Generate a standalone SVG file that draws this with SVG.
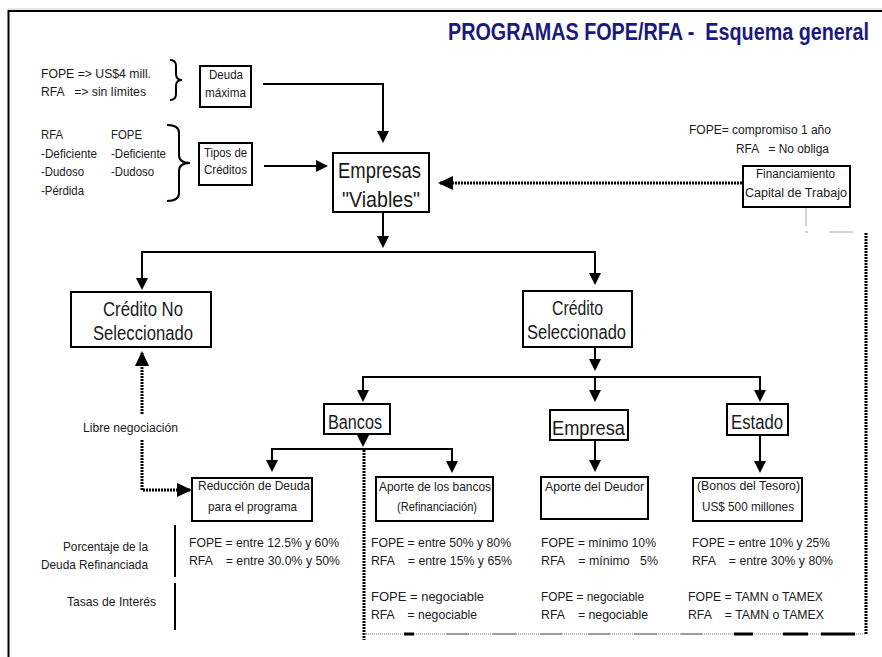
<svg xmlns="http://www.w3.org/2000/svg" width="882" height="657" viewBox="0 0 882 657">
<style>
.box{fill:#fff;stroke:#000;stroke-width:2}
.ln{fill:none;stroke:#000;stroke-width:2}
.dot{fill:none;stroke:#000;stroke-width:3;stroke-dasharray:2 1}
.gr{fill:none;stroke:#aaa;stroke-width:1}
.t{font-family:"Liberation Sans Narrow","Liberation Sans",Arial,sans-serif;fill:#1a1a1a;font-size:13px;white-space:pre}
.s12{font-size:12px}
.m{font-size:20px}
.l{font-size:22px}
.title{font-family:"Liberation Sans Narrow","Liberation Sans",Arial,sans-serif;font-weight:bold;fill:#1a1a7e;font-size:19.5px;white-space:pre}
</style>
<defs>
<marker id="ah" markerUnits="userSpaceOnUse" markerWidth="12" markerHeight="12" refX="10" refY="6" orient="auto">
<path d="M0,0 L12,6 L0,12 z" fill="#000"/>
</marker>
<marker id="ahd" markerUnits="userSpaceOnUse" markerWidth="15" markerHeight="14" refX="13" refY="7" orient="auto">
<path d="M0,0 L15,7 L0,14 z" fill="#000"/>
</marker>
</defs>
<rect width="882" height="657" fill="#fff"/>
<!-- frame -->
<g id="frame">
<line x1="8" y1="9" x2="882" y2="9" stroke="#ccc" stroke-width="1"/>
<line x1="8.5" y1="11" x2="882" y2="11" stroke="#000" stroke-width="2"/>
<line x1="8.5" y1="10" x2="8.5" y2="657" stroke="#000" stroke-width="2"/>
</g>
<text class="title" x="448" y="33.33" transform="scale(1,1.2)" textLength="421" lengthAdjust="spacingAndGlyphs" xml:space="preserve">PROGRAMAS FOPE/RFA -  Esquema general</text>

<!-- connectors -->
<g id="connectors">
<path class="ln" d="M263,84 H383 V141" marker-end="url(#ah)"/>
<path class="ln" d="M264,166 H326" marker-end="url(#ah)"/>
<path class="dot" d="M742,183 H440" marker-end="url(#ahd)"/>
<path class="ln" d="M383,212 V246" marker-end="url(#ah)"/>
<path class="ln" d="M141,252 H596"/>
<path class="ln" d="M142,252 V288" marker-end="url(#ah)"/>
<path class="ln" d="M595,252 V283" marker-end="url(#ah)"/>
<path class="ln" d="M595,347 V369" marker-end="url(#ah)"/>
<path class="ln" d="M362,377 H761"/>
<path class="ln" d="M363,377 V400" marker-end="url(#ah)"/>
<path class="ln" d="M595,377 V400" marker-end="url(#ah)"/>
<path class="ln" d="M760,377 V400" marker-end="url(#ah)"/>
<path class="ln" d="M363,434 V445" marker-end="url(#ah)"/>
<path class="ln" d="M271,449 H453"/>
<path class="ln" d="M272,449 V470" marker-end="url(#ah)"/>
<path class="ln" d="M452,449 V471" marker-end="url(#ah)"/>
<path class="ln" d="M595,432 V470" marker-end="url(#ah)"/>
<path class="ln" d="M760,435 V471" marker-end="url(#ah)"/>
<path class="dot" d="M142,414 V353" marker-end="url(#ahd)"/>
<path class="dot" d="M142,440 V490 H190" marker-end="url(#ahd)"/>
<path class="dot" d="M364,450 V640"/>
<path class="dot" d="M866,233 V634"/>
<line x1="364" y1="634" x2="866" y2="634" stroke="#777" stroke-width="1" stroke-dasharray="1 1"/>
<path fill="none" stroke="#888" stroke-width="1.3" d="M447,634 H469 M493,634 H516 M540,634 H562 M588,634 H610 M634,634 H657 M681,634 H702"/>
<path fill="none" stroke="#000" stroke-width="3" d="M404,634 H414 M734,634 H753 M783,634 H808 M821,634 H855"/>
<path class="gr" d="M806,207 V226 M805,232 H808 M829,232 H853"/>
</g>

<!-- left annotations -->
<g id="deuda-notes">
<text class="t" x="41" y="78" textLength="110" lengthAdjust="spacingAndGlyphs" xml:space="preserve">FOPE =&gt; US$4 mill.</text>
<text class="t" x="41" y="96" textLength="105" lengthAdjust="spacingAndGlyphs" xml:space="preserve">RFA   =&gt; sin límites</text>
<path class="ln" stroke-width="1.5" d="M170,60 Q176,60 176,66 V74 Q176,80 182,80 Q176,80 176,86 V94 Q176,100 170,100"/>
</g>
<g id="tipos-notes">
<text class="t" x="41" y="139" textLength="22" lengthAdjust="spacingAndGlyphs">RFA</text>
<text class="t" x="111" y="139" textLength="31" lengthAdjust="spacingAndGlyphs">FOPE</text>
<text class="t" x="41" y="158" textLength="56" lengthAdjust="spacingAndGlyphs">-Deficiente</text>
<text class="t" x="111" y="158" textLength="55" lengthAdjust="spacingAndGlyphs">-Deficiente</text>
<text class="t" x="41" y="176" textLength="43" lengthAdjust="spacingAndGlyphs">-Dudoso</text>
<text class="t" x="111" y="176" textLength="43" lengthAdjust="spacingAndGlyphs">-Dudoso</text>
<text class="t" x="41" y="195" textLength="43" lengthAdjust="spacingAndGlyphs">-Pérdida</text>
<path class="ln" stroke-width="1.5" d="M167,125 Q179,125 179,133 V155 Q179,163 190,163 Q179,163 179,171 V193 Q179,201 167,201"/>
</g>

<g id="deuda-maxima">
<rect class="box" x="200" y="66" width="51" height="41"/>
<text class="t" x="209" y="79" textLength="34" lengthAdjust="spacingAndGlyphs">Deuda</text>
<text class="t" x="205" y="97" textLength="41" lengthAdjust="spacingAndGlyphs">máxima</text>
</g>
<g id="tipos-creditos">
<rect class="box" x="199" y="143" width="53" height="42"/>
<text class="t" x="204" y="157" textLength="43" lengthAdjust="spacingAndGlyphs">Tipos de</text>
<text class="t" x="204" y="174" textLength="43" lengthAdjust="spacingAndGlyphs">Créditos</text>
</g>
<g id="empresas-viables">
<rect class="box" x="333" y="153" width="96" height="59"/>
<text class="t l" x="338" y="178" textLength="83" lengthAdjust="spacingAndGlyphs">Empresas</text>
<text class="t l" x="342" y="207" textLength="78" lengthAdjust="spacingAndGlyphs">"Viables"</text>
</g>
<g id="financiamiento">
<text class="t s12" x="689" y="134" textLength="142" lengthAdjust="spacingAndGlyphs" xml:space="preserve">FOPE= compromiso 1 año</text>
<text class="t s12" x="736" y="153" textLength="93" lengthAdjust="spacingAndGlyphs" xml:space="preserve">RFA   = No obliga</text>
<rect class="box" x="743" y="166" width="107" height="41"/>
<text class="t s12" x="756" y="178" textLength="79" lengthAdjust="spacingAndGlyphs">Financiamiento</text>
<text class="t s12" x="745" y="197" textLength="102" lengthAdjust="spacingAndGlyphs">Capital de Trabajo</text>
</g>
<g id="credito-no-seleccionado">
<rect class="box" x="71" y="292" width="140" height="55"/>
<text class="t m" x="103" y="316" textLength="80" lengthAdjust="spacingAndGlyphs">Crédito No</text>
<text class="t m" x="93" y="340" textLength="100" lengthAdjust="spacingAndGlyphs">Seleccionado</text>
</g>
<g id="credito-seleccionado">
<rect class="box" x="523" y="291" width="109" height="56"/>
<text class="t m" x="552" y="315" textLength="51" lengthAdjust="spacingAndGlyphs">Crédito</text>
<text class="t m" x="527" y="339" textLength="99" lengthAdjust="spacingAndGlyphs">Seleccionado</text>
</g>
<g id="libre-negociacion">
<text class="t s12" x="83" y="432" textLength="95" lengthAdjust="spacingAndGlyphs">Libre negociación</text>
</g>
<g id="bancos">
<rect class="box" x="324" y="404" width="66" height="30"/>
<text class="t m" x="328" y="429" textLength="54" lengthAdjust="spacingAndGlyphs">Bancos</text>
</g>
<g id="empresa">
<rect class="box" x="550" y="410" width="78" height="30"/>
<text class="t m" x="552" y="435" textLength="73" lengthAdjust="spacingAndGlyphs">Empresa</text>
</g>
<g id="estado">
<rect class="box" x="727" y="404" width="61" height="31"/>
<text class="t m" x="731" y="429" textLength="52" lengthAdjust="spacingAndGlyphs">Estado</text>
</g>
<g id="reduccion-deuda">
<rect class="box" x="192" y="478" width="120" height="43"/>
<text class="t" x="198" y="490" textLength="112" lengthAdjust="spacingAndGlyphs">Reducción de Deuda</text>
<text class="t" x="208" y="511" textLength="89" lengthAdjust="spacingAndGlyphs">para el programa</text>
</g>
<g id="aporte-bancos">
<rect class="box" x="376" y="477" width="117" height="44"/>
<text class="t" x="379" y="491" textLength="112" lengthAdjust="spacingAndGlyphs">Aporte de los bancos</text>
<text class="t" x="397" y="511" textLength="80" lengthAdjust="spacingAndGlyphs">(Refinanciación)</text>
</g>
<g id="aporte-deudor">
<rect class="box" x="541" y="477" width="107" height="42"/>
<text class="t" x="545" y="491" textLength="99" lengthAdjust="spacingAndGlyphs">Aporte del Deudor</text>
</g>
<g id="bonos-tesoro">
<rect class="box" x="693" y="478" width="109" height="43"/>
<text class="t" x="697" y="490" textLength="103" lengthAdjust="spacingAndGlyphs">(Bonos del Tesoro)</text>
<text class="t" x="702" y="511" textLength="92" lengthAdjust="spacingAndGlyphs">US$ 500 millones</text>
</g>

<g id="row-labels">
<text class="t" x="63" y="551" textLength="85" lengthAdjust="spacingAndGlyphs">Porcentaje de la</text>
<text class="t" x="41" y="569" textLength="107" lengthAdjust="spacingAndGlyphs">Deuda Refinanciada</text>
<text class="t" x="67" y="606" textLength="89" lengthAdjust="spacingAndGlyphs">Tasas de Interés</text>
<line x1="175" y1="525" x2="175" y2="577" stroke="#000" stroke-width="2"/>
<line x1="175" y1="583" x2="175" y2="630" stroke="#000" stroke-width="2"/>
</g>
<g id="values">
<text class="t" x="189" y="547" textLength="150" lengthAdjust="spacingAndGlyphs" xml:space="preserve">FOPE = entre 12.5% y 60%</text>
<text class="t" x="189" y="565" textLength="151" lengthAdjust="spacingAndGlyphs" xml:space="preserve">RFA    = entre 30.0% y 50%</text>
<text class="t" x="371" y="547" textLength="140" lengthAdjust="spacingAndGlyphs" xml:space="preserve">FOPE = entre 50% y 80%</text>
<text class="t" x="371" y="565" textLength="141" lengthAdjust="spacingAndGlyphs" xml:space="preserve">RFA    = entre 15% y 65%</text>
<text class="t" x="371" y="601" textLength="113" lengthAdjust="spacingAndGlyphs" xml:space="preserve">FOPE = negociable</text>
<text class="t" x="371" y="619" textLength="106" lengthAdjust="spacingAndGlyphs" xml:space="preserve">RFA    = negociable</text>
<text class="t" x="541" y="547" textLength="115" lengthAdjust="spacingAndGlyphs" xml:space="preserve">FOPE = mínimo 10%</text>
<text class="t" x="541" y="565" textLength="117" lengthAdjust="spacingAndGlyphs" xml:space="preserve">RFA    = mínimo   5%</text>
<text class="t" x="541" y="601" textLength="103" lengthAdjust="spacingAndGlyphs" xml:space="preserve">FOPE = negociable</text>
<text class="t" x="541" y="619" textLength="107" lengthAdjust="spacingAndGlyphs" xml:space="preserve">RFA    = negociable</text>
<text class="t" x="692" y="547" textLength="138" lengthAdjust="spacingAndGlyphs" xml:space="preserve">FOPE = entre 10% y 25%</text>
<text class="t" x="692" y="565" textLength="141" lengthAdjust="spacingAndGlyphs" xml:space="preserve">RFA    = entre 30% y 80%</text>
<text class="t" x="688" y="601" textLength="135" lengthAdjust="spacingAndGlyphs" xml:space="preserve">FOPE = TAMN o TAMEX</text>
<text class="t" x="688" y="619" textLength="136" lengthAdjust="spacingAndGlyphs" xml:space="preserve">RFA    = TAMN o TAMEX</text>
</g>
</svg>
